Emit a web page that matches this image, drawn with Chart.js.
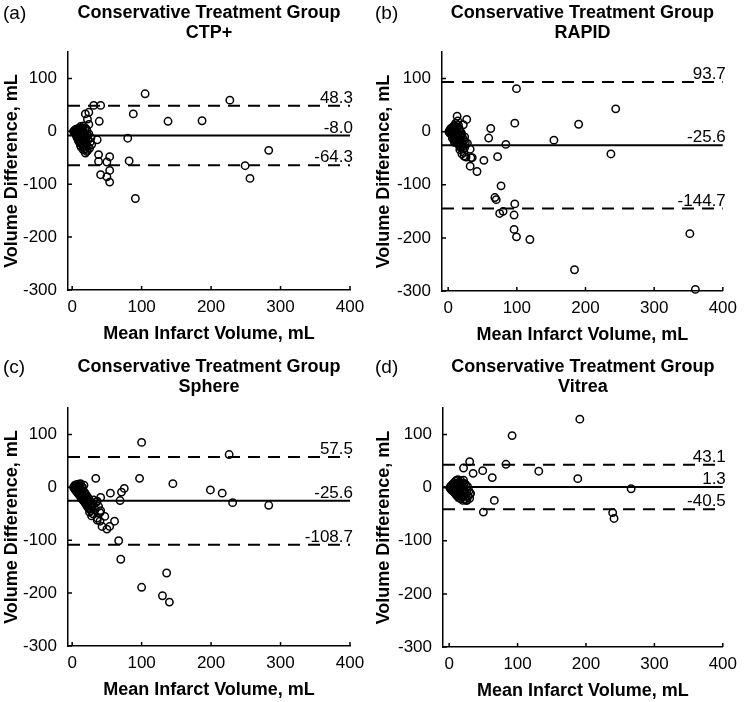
<!DOCTYPE html>
<html>
<head>
<meta charset="utf-8">
<script src="https://cdn.jsdelivr.net/npm/chart.js@4.4.1/dist/chart.umd.min.js"></script>
<style>
  html, body { margin: 0; padding: 0; background: #fff; }
  #wrap { position: relative; width: 744px; height: 702px; }
  canvas { position: absolute; }
</style>
</head>
<body>
<div id="wrap">
  <canvas id="pa" width="372" height="351" style="left:0;top:0"></canvas>
  <canvas id="pb" width="372" height="351" style="left:372px;top:0"></canvas>
  <canvas id="pc" width="372" height="351" style="left:0;top:351px"></canvas>
  <canvas id="pd" width="372" height="351" style="left:372px;top:351px"></canvas>
</div>
<script>
// tick labels
const xTicks = [0, 100, 200, 300, 400];
const yTicks = [-300, -200, -100, 0, 100];

// (a) CTP+  [mean volume, difference]
const ctpPoints = [
  [105,71],[227,59],[31,49],[41,49],[88,33],[138,19],[187,20],[39,19],[24,36],[22,23],
  [24,13],[19,33],[80,-13],[283,-36],[36,-16],[38,-44],[38,-57],[50,-58],[54,-48],[54,-74],
  [41,-82],[50,-86],[54,-96],[82,-56],[249,-65],[256,-89],[91,-127],[22,-36],[19,-41],[15,-24],
  [2,0],[3,1],[3,-2],[4,2],[4,-3],[5,0],[5,3],[5,-5],[6,-2],[6,4],[7,1],[7,-6],[8,5],[8,-3],
  [8,-9],[9,0],[9,-12],[10,6],[10,-4],[10,-15],[11,2],[11,-8],[12,9],[12,-18],[13,-1],[13,-12],
  [14,4],[14,-22],[15,-6],[15,-26],[16,10],[16,-14],[17,-30],[18,-3],[18,-20],[19,-33],[20,-10],
  [20,-25],[21,-38],[22,-28],[23,-16],[24,-5],[25,-32],[26,-20],[27,-12],[28,-25],
  [6,-8],[7,-12],[9,-18],[11,-22],[12,-27],[13,-30],[16,-35],[17,-24],[14,-9],[12,-14],
  [10,-10],[16,-2],[18,-11],[20,-18],[22,-7],[21,3],[19,6],[17,-8],[15,-18],[13,6]
];
const ctpLines = [48.3, -8.0, -64.3];

// (b) RAPID
const rapidPoints = [
  [99.5,81],[97,16],[190,14],[244,43],[154,-16],[237,-42],[62,6],[59,-12],[84,-24],[72,-47],
  [52,-54],[42,-75],[32,-65],[35,-49],[32,-33],[27,23],[22,13],[13,29],[77,-102],[68,-124],
  [70,-128],[75,-154],[80,-150],[97,-136],[96,-157],[96,-184],[99.5,-198],[119,-203],[184,-260],
  [352,-192],[360,-297],[20,-42],[23,-46],[26,-48],[28,-22],[23,-39],[33,-49],
  [1,0],[2,2],[2,-2],[3,4],[3,-1],[4,-4],[4,6],[5,1],[5,-6],[6,8],[6,-3],[7,-8],[7,3],[8,10],
  [8,-1],[9,-10],[9,12],[10,-5],[10,5],[11,-14],[11,16],[12,-2],[12,-18],[13,8],[13,-9],[14,20],
  [14,-22],[15,-4],[15,-12],[16,-26],[17,2],[17,-16],[18,-8],[19,-20],[20,-28],[21,-12],[22,-24],
  [23,-16],[24,-30],[25,-20],
  [6,-12],[8,-14],[10,-18],[12,-10],[14,-6],[16,-18],[18,-30],[19,-2],[21,-22],[20,-6],
  [11,-6],[13,-15],[15,12],[16,6],[9,-20],[17,-34],[22,-32],[24,-10]
];
const rapidLines = [93.7, -25.6, -144.7];

// (c) Sphere
const spherePoints = [
  [97,17],[100,85],[226,62],[34,17],[145,7],[199,-5],[216,-11],[231,-29],[283,-34],[75,-2],
  [71,-9],[55,-11],[69,-25],[67,-101],[70,-136],[100,-189],[130,-205],[136,-162],[140,-217],
  [61,-64],[54,-74],[50,-79],[43,-74],[47,-55],[41,-44],[41,-19],[36,-62],[28,-54],[25,-47],[36,-26],
  [2,0],[3,2],[3,-2],[4,4],[4,-3],[5,1],[5,-6],[6,5],[6,-4],[7,-8],[7,2],[8,-2],[8,-11],[9,6],
  [9,-6],[10,-13],[10,3],[11,-9],[11,-16],[12,7],[12,-4],[13,-19],[13,-11],[14,1],[14,-22],
  [15,-14],[15,-6],[16,-25],[17,-18],[17,4],[18,-28],[18,-10],[19,-22],[20,-32],[20,-14],
  [21,-26],[22,-36],[22,-18],[23,-30],[24,-40],[24,-22],[25,-34],[26,-26],[27,-44],[28,-30],
  [29,-38],[30,-50],[31,-24],[33,-42],[35,-28],[36,-58],[38,-36],[40,-48],[40,-64],
  [6,-1],[8,-6],[10,-8],[12,-13],[14,-16],[16,-20],[18,-22],[19,-30],[21,-34],[23,-38],
  [15,0],[17,-8],[19,-14],[21,-20],[25,-28],[27,-36],[11,-3],[13,-7]
];
const sphereLines = [57.5, -25.6, -108.7];

// (d) Vitrea
const vitreaPoints = [
  [191,129],[92,98],[30,49],[21,37],[35,27],[49,32],[83,44],[131,31],[63,19],[188,17],
  [266,-2],[66,-24],[50,-46],[239,-47],[241,-58],[31,-11],[25,-24],[20,-24],
  [1,0],[2,2],[2,-2],[3,4],[3,-3],[4,1],[4,-5],[5,6],[5,-1],[6,-7],[6,3],[7,9],[7,-4],[8,-10],
  [8,1],[9,12],[9,-6],[10,-13],[10,4],[11,14],[11,-2],[12,-16],[12,8],[13,-9],[13,15],[14,2],
  [14,-19],[15,10],[15,-5],[16,-14],[17,13],[17,-21],[18,0],[19,-10],[19,8],[20,-18],[21,14],
  [22,-4],[23,-22],[24,6],[25,-12],[26,-24],[27,2],[28,-16],[29,-6],[30,-20],[31,-11],
  [7,-1],[9,-2],[11,6],[12,-6],[14,-11],[16,4],[18,-14],[20,-6],[22,8],[24,-16],
  [16,-6],[13,-2],[10,-8],[20,2],[26,-6],[23,-10]
];
const vitreaLines = [43.1, 1.3, -40.5];

const FONT = '"Liberation Sans", Arial, Helvetica, sans-serif';
Chart.defaults.font.family = FONT;
Chart.defaults.color = '#000';

function makePanel(id, letter, method, points, lines, g) {
  const W = 372, H = 351;
  const decor = {
    id: 'decor',
    afterDraw(chart) {
      const { ctx, chartArea: a, scales: { x, y } } = chart;
      ctx.save();
      // inward tick marks
      ctx.strokeStyle = '#000';
      ctx.lineWidth = 1.5;
      ctx.beginPath();
      x.ticks.forEach(t => {
        const px = x.getPixelForValue(t.value);
        ctx.moveTo(px, a.bottom); ctx.lineTo(px, a.bottom - 4);
      });
      y.ticks.forEach(t => {
        const py = y.getPixelForValue(t.value);
        ctx.moveTo(a.left, py); ctx.lineTo(a.left + 4, py);
      });
      ctx.stroke();
      // values of mean and limits
      ctx.fillStyle = '#000';
      ctx.font = '17px ' + FONT;
      ctx.textAlign = 'right';
      ctx.textBaseline = 'alphabetic';
      lines.forEach(v => ctx.fillText(v.toFixed(1), a.right + 3, y.getPixelForValue(v) - 3));
      // title
      const cx = (a.left + a.right) / 2;
      ctx.textAlign = 'center';
      ctx.textBaseline = 'middle';
      ctx.font = 'bold 18px ' + FONT;
      ctx.fillText('Conservative Treatment Group', cx, g.titleY);
      ctx.fillText(method, cx, g.titleY + 20);
      ctx.textAlign = 'left';
      ctx.font = '19px ' + FONT;
      ctx.fillText(letter, 3, g.titleY + 1);
      ctx.restore();
    }
  };

  const lineSet = (v, dash) => ({
    type: 'line',
    data: [{ x: g.xMin, y: v }, { x: 400, y: v }],
    borderColor: '#000',
    borderWidth: 2,
    borderDash: dash,
    pointRadius: 0,
    showLine: true,
    fill: false
  });

  new Chart(document.getElementById(id), {
    type: 'scatter',
    data: {
      datasets: [
        lineSet(lines[0], [12, 8]),
        lineSet(lines[1], []),
        lineSet(lines[2], [12, 8]),
        {
          type: 'scatter',
          data: points.map(p => ({ x: p[0], y: p[1] })),
          pointStyle: 'circle',
          pointRadius: 3.7,
          borderWidth: 1.5,
          borderColor: '#000',
          backgroundColor: 'rgba(0,0,0,0)',
          clip: false
        }
      ]
    },
    options: {
      responsive: false,
      animation: false,
      devicePixelRatio: 1,
      layout: { padding: { left: 0, top: g.top, right: W - g.right, bottom: 0 } },
      plugins: { legend: { display: false }, tooltip: { enabled: false } },
      scales: {
        x: {
          type: 'linear',
          min: g.xMin,
          max: 400,
          afterBuildTicks: s => { s.ticks = xTicks.map(v => ({ value: v })); },
          afterFit: s => { s.height = H - g.bottom; },
          grid: { display: false, drawTicks: false },
          border: { display: true, color: '#000', width: 1.5 },
          ticks: { padding: 7, color: '#000', font: { size: 17 }, maxRotation: 0, autoSkip: false },
          title: {
            display: true,
            text: 'Mean Infarct Volume, mL',
            color: '#000',
            font: { size: 18, weight: 'bold' },
            padding: { top: 0, bottom: Math.max(0, H - g.bottom - 44 - 10.8) }
          }
        },
        y: {
          type: 'linear',
          min: -300,
          max: 150,
          afterBuildTicks: s => { s.ticks = yTicks.map(v => ({ value: v })); },
          afterFit: s => { s.width = g.left; },
          grid: { display: false, drawTicks: false },
          border: { display: true, color: '#000', width: 1.5 },
          ticks: { padding: 11, color: '#000', font: { size: 17 }, autoSkip: false },
          title: {
            display: true,
            text: 'Volume Difference, mL',
            color: '#000',
            font: { size: 18, weight: 'bold' },
            padding: { top: 1, bottom: 0 }
          }
        }
      }
    },
    plugins: [decor]
  });
}

makePanel('pa', '(a)', 'CTP+', ctpPoints, ctpLines, { left: 68, right: 350, top: 52, bottom: 290, xMin: -6, titleY: 13 });
makePanel('pb', '(b)', 'RAPID', rapidPoints, rapidLines, { left: 70, right: 354, top: 52, bottom: 291, xMin: -9, titleY: 13 });
makePanel('pc', '(c)', 'Sphere', spherePoints, sphereLines, { left: 68, right: 350, top: 57, bottom: 295, xMin: -6, titleY: 16 });
makePanel('pd', '(d)', 'Vitrea', vitreaPoints, vitreaLines, { left: 71, right: 354, top: 57, bottom: 296, xMin: -9, titleY: 16 });
</script>
</body>
</html>
